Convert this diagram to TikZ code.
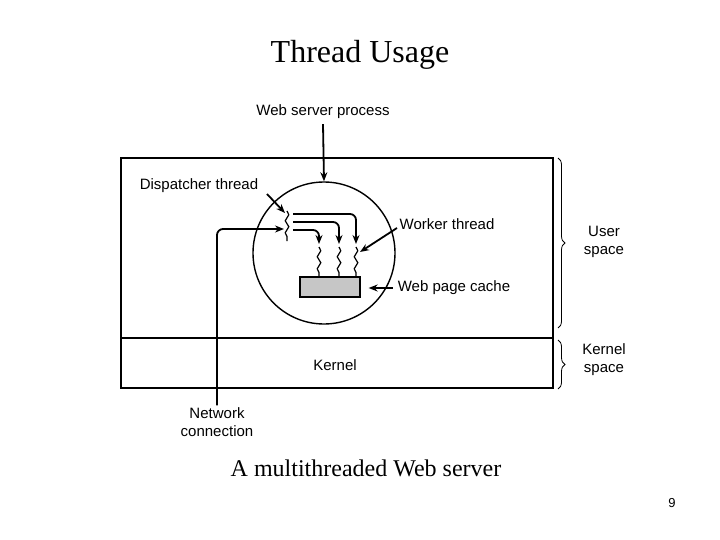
\documentclass[tikz,border=0pt]{standalone}
\usepackage{fontspec}
\setmainfont{Liberation Serif}
\newfontfamily\arialfont{Liberation Sans}
\usetikzlibrary{
	arrows.meta,
	decorations.pathmorphing,
	decorations.pathreplacing
}

\tikzset{
	lbl/.style={font=\arialfont\fontsize{15}{18}\selectfont, align=center, inner sep=1pt},
	ptr/.style={-{Stealth[length=9pt,width=7pt]}, line width=1.8pt},
	thr/.style={line width=1.2pt, decorate, decoration={snake, amplitude=1.8pt, segment length=12pt}},
	spacebrace/.style={line width=0.8pt, decorate, decoration={brace, amplitude=7pt}}
}

\begin{document}
\begin{tikzpicture}[x=1pt, y=-1pt]
	\useasboundingbox (0,0) rectangle (720,540);
	% titles
	\node (title) at (360,55) {\fontsize{32}{36}\selectfont Thread Usage};
	\node (caption) at (366,468) {\fontsize{24}{28}\selectfont A multithreaded Web server};
	\node[lbl, font=\arialfont\fontsize{13}{15}\selectfont] (pagenum) at (672,503) {9};
	% user and kernel space
	\draw[line width=1.6pt] (121,158) rectangle (553,388);
	\draw[line width=1.6pt] (121,338) -- (553,338);
	\node[lbl] (kernel) at (335,365) {Kernel};
	\draw[spacebrace] (558,158) -- (558,328);
	\draw[spacebrace] (558,340) -- (558,389);
	\node[lbl] (user) at (604,242) {User\\space};
	\node[lbl] (kspace) at (604,360) {Kernel\\space};
	% process
	\node[circle, draw, line width=1.4pt, minimum size=142pt, inner sep=0pt] (proc) at (324,253) {};
	\node[lbl] (proclbl) at (323,112) {Web server process};
	\draw[ptr] (proclbl.south) ++(0,4) coordinate (pstart) -- (proc.north);
	% dispatcher
	\draw[thr] (287,211) -- (287,241);
	\coordinate (disp) at (285,213);
	\node[lbl] (displbl) at (199,186) {Dispatcher thread};
	\draw[ptr] (267,194) -- (disp);
	% workers
	\draw[ptr, rounded corners=6pt] (293,214) -| (356,244);
	\draw[ptr, rounded corners=6pt] (293,222) -| (339,244);
	\draw[ptr, rounded corners=6pt] (293,230) -| (319,244);
	\foreach \wx in {319,339,356}
		\draw[thr] (\wx,247) -- (\wx,277);
	\node[lbl] (worklbl) at (447,224) {Worker thread};
	\draw[ptr] (397,228) -- (360,252);
	% cache
	\node[draw, fill=gray!45, line width=1.4pt, minimum width=60pt, minimum height=20pt, inner sep=0pt] (cache) at (330,287) {};
	\node[lbl] (cachelbl) at (454,288) {Web page cache};
	\draw[ptr] (cachelbl.west) ++(-4,0) coordinate (cstart) -- ++(-24,0);
	% network
	\node[lbl] (net) at (217,422) {Network\\connection};
	\draw[ptr, rounded corners=6pt] (net.north) ++(0,-1) coordinate (nstart) |- (284,229);
\end{tikzpicture}
\end{document}
